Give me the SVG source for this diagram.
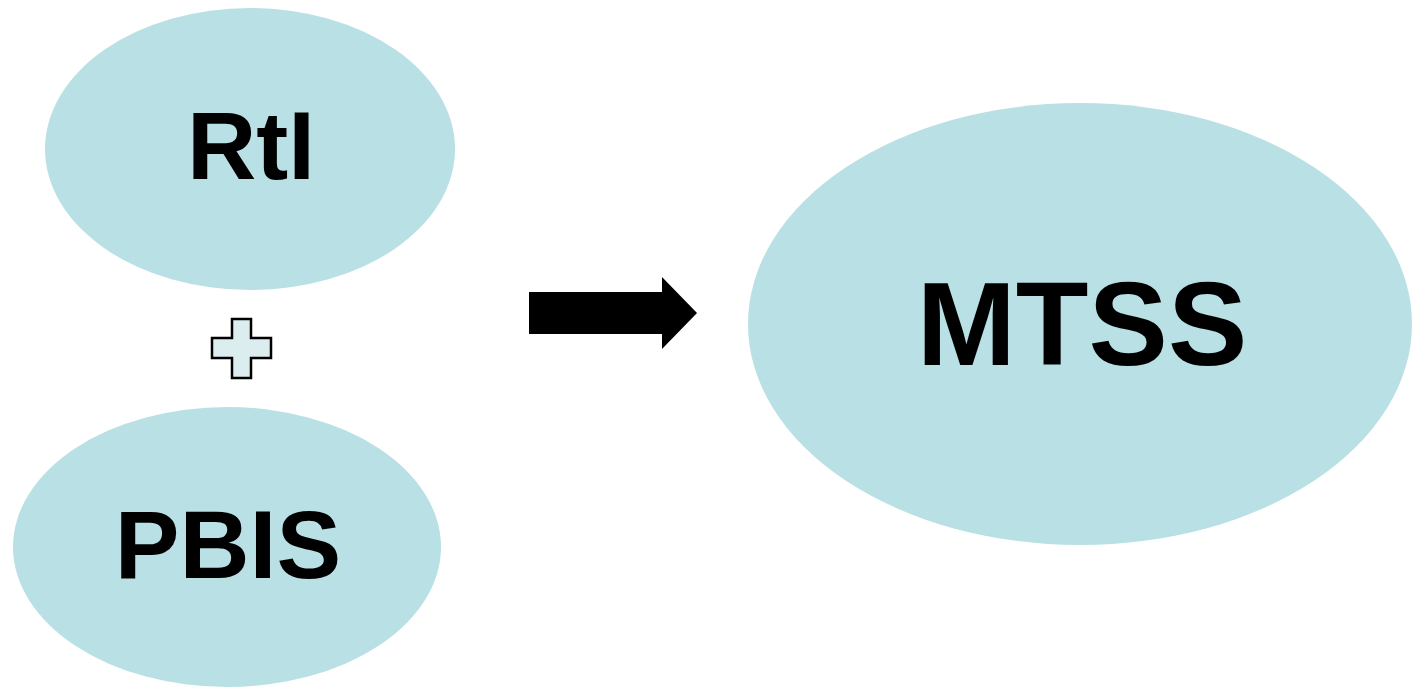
<svg xmlns="http://www.w3.org/2000/svg" width="1413" height="687" viewBox="0 0 1413 687">
<style>
.node{fill:#b9e0e4;stroke:none}
.lbl{font-family:"Liberation Sans",Arial,sans-serif;font-weight:bold;fill:#000;text-anchor:middle}
</style>
<rect width="1413" height="687" fill="#fff"/>
<g id="rti">
<ellipse class="node" cx="250" cy="149" rx="205" ry="141"/>
<text class="lbl" x="251" y="179" font-size="96">RtI</text>
</g>
<g id="pbis">
<ellipse class="node" cx="227" cy="547" rx="214" ry="140"/>
<text class="lbl" x="228" y="578" font-size="97">PBIS</text>
</g>
<g id="mtss">
<ellipse class="node" cx="1080" cy="324" rx="332" ry="221"/>
<text class="lbl" x="1082" y="365" font-size="119">MTSS</text>
</g>
<g id="plus">
<path d="M232,319 H251 V338 H271 V358 H251 V378 H232 V358 H212 V338 H232 Z" fill="#dcedef" stroke="#000" stroke-width="2.5"/>
</g>
<g id="connectors">
<path d="M529,292 H662 V277 L697,313 L662,349 V334 H529 Z" fill="#000"/>
</g>
</svg>
